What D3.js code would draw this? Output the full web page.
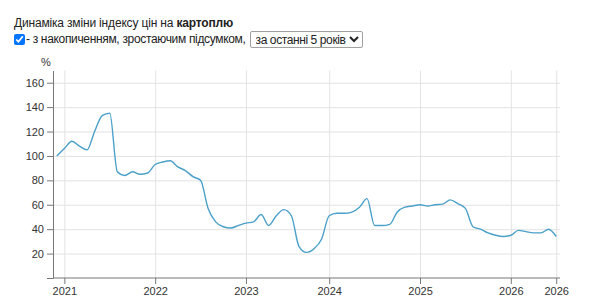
<!DOCTYPE html>
<html>
<head>
<meta charset="utf-8">
<script src="https://cdn.jsdelivr.net/npm/d3@7"></script>
<style>
  body { margin: 0; font-family: Arial, "Liberation Sans", sans-serif; background: #fff; }
  #head { position: absolute; left: 14px; top: 16px; font-size: 12px; letter-spacing: -0.17px; color: #222; line-height: 15px; }
  #head .row2 { margin-top: 0; display: flex; align-items: center; letter-spacing: -0.33px; }
  #head input { margin: 0 1px 0 0; width: 11px; height: 11px; }
  #head select { font-family: inherit; font-size: 12px; letter-spacing: -0.4px; margin-left: 4px; padding: 0 0 0 1px; height: 17px;
                 border: 1px solid #a0a0a0; border-radius: 2px; background: #fff; color: #222; }
  #chart { position: absolute; left: 0; top: 0; }
  .grid line { stroke: #e3e3e3; }
  .grid path { display: none; }
  .axis text { font-size: 11px; fill: #333; font-family: Arial, "Liberation Sans", sans-serif; }
  .axis path, .axis line { stroke: #777; }
</style>
</head>
<body>
<div id="head">
  <div>Динаміка зміни індексу цін на <b>картоплю</b></div>
  <div class="row2"><input type="checkbox" checked>- з накопиченням, зростаючим підсумком, <select><option>за останні 5 років</option></select></div>
</div>
<div id="chart"></div>
<script>
// months (one missing in 2023 in the source data)
const months = [
  "2020-12",
  "2021-01","2021-02","2021-03","2021-04","2021-05","2021-06","2021-07","2021-08","2021-09","2021-10","2021-11","2021-12",
  "2022-01","2022-02","2022-03","2022-04","2022-05","2022-06","2022-07","2022-08","2022-09","2022-10","2022-11","2022-12",
  "2023-01","2023-02","2023-03","2023-04","2023-05","2023-06","2023-07","2023-09","2023-10","2023-11","2023-12",
  "2024-01","2024-02","2024-03","2024-04","2024-05","2024-06","2024-07","2024-08","2024-09","2024-10","2024-11","2024-12",
  "2025-01","2025-02","2025-03","2025-04","2025-05","2025-06","2025-07","2025-08","2025-09","2025-10","2025-11","2025-12",
  "2026-01","2026-02","2026-03","2026-04","2026-05","2026-06","2026-07"
];
// cumulative price index, %
const values = [
  100,
  106,112,108,105,120,133,135,87,84,87,85,86,
  93,95,96,91,88,83,80,57,46,42,41,43,
  45,46,52,43,51,56,51,26,21,24,32,
  51,53,53,54,58,65,43,43,44,54,58,59,
  60,59,60,60.5,64,61,57,42,40,37,35,34,
  35,39,38,37,37,40,34
];
const yTicks = [0, 20, 40, 60, 80, 100, 120, 140, 160];

const W = 600, H = 304;
const svg = d3.select("#chart").append("svg").attr("width", W).attr("height", H);

const x = d3.scalePoint().domain(months).range([53, 560]).padding(0.5);
const y = d3.scaleLinear().domain([0, 170]).range([278, 70.5]);

// ticks: first month of each year + the last month
let xTicks = months.filter((m, i) => i > 0 && m.slice(0, 4) !== months[i - 1].slice(0, 4));
xTicks.push(months[months.length - 1]);

// grid
svg.append("g").attr("class", "grid")
  .attr("transform", "translate(0,278)")
  .call(d3.axisBottom(x).tickValues(xTicks).tickSize(-(278 - 70.5)).tickFormat(""));
svg.append("g").attr("class", "grid")
  .attr("transform", "translate(53,0)")
  .call(d3.axisLeft(y).tickValues(yTicks.filter(d => d > 0)).tickSize(-(560 - 53)).tickFormat(""));

// axes
svg.append("g").attr("class", "axis")
  .attr("transform", "translate(0,278)")
  .call(d3.axisBottom(x).tickValues(xTicks).tickSizeOuter(0).tickFormat(m => m.slice(0, 4)))
  .call(g => g.select(".domain").attr("d", "M53,0H560"));
svg.append("g").attr("class", "axis")
  .attr("transform", "translate(53,0)")
  .call(d3.axisLeft(y).tickValues(yTicks).tickSizeOuter(0).tickFormat(d => d === 0 ? "" : d));

svg.append("text").attr("x", 46).attr("y", 66).attr("text-anchor", "middle")
  .style("font-size", "11px").style("fill", "#333").text("%");

const line = d3.line()
  .x((d, i) => x(months[i]))
  .y(d => y(d))
  .curve(d3.curveMonotoneX);

svg.append("path").datum(values)
  .attr("fill", "none")
  .attr("stroke", "#4aa0c8")
  .attr("stroke-width", 1.4)
  .attr("d", line);
</script>
</body>
</html>
